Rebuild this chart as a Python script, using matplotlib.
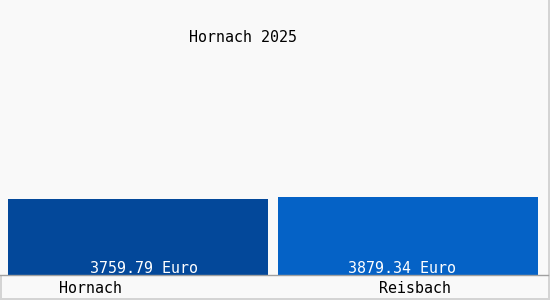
import numpy as np
import matplotlib.pyplot as plt

towns = ["Hornach", "Reisbach"]
values = [3759.79, 3879.34]
value_labels = ["3759.79 Euro", "3879.34 Euro"]
bar_colors = ["#03489a", "#0562c6"]
title = "Hornach 2025"

plt.rcParams["font.family"] = "DejaVu Sans Mono"
fs = 10.8

fig = plt.figure(figsize=(5.5, 3), dpi=100, facecolor="#f9f9f9",
                 edgecolor="#d4d4d4", linewidth=1.5)
ax = fig.add_axes([0, 25 / 300, 548 / 550, 275 / 300])
ax.set_facecolor("#f9f9f9")

x = np.arange(len(towns))
ax.bar(x, values, width=0.965, color=bar_colors)
# value labels are not quite centred on the bars in the original
text_shift = [4, -4]
for xi, lab, dx in zip(x, value_labels, text_shift):
    ax.annotate(lab, (xi, 0), xytext=(dx, 1.5), textcoords="offset points",
                ha="center", va="baseline", color="white", fontsize=fs)

ax.set_xlim(-138 / 270, 410 / 270)
ax.set_ylim(0, values[1] * 275 / 78)

label_shift = [-0.175, 0.026]
ax.set_xticks(x + np.array(label_shift))
ax.set_xticklabels(towns, fontsize=fs)
ax.tick_params(axis="x", length=0, pad=4.5)
ax.set_yticks([])
for s in ["top", "left", "right"]:
    ax.spines[s].set_visible(False)
ax.spines["bottom"].set_color("#a0a0a0")
ax.spines["bottom"].set_linewidth(1)

fig.text(243 / 550, 1 - 38 / 300, title, ha="center", va="center", fontsize=fs)

fig.savefig("out.png", dpi=100, facecolor=fig.get_facecolor(), edgecolor=fig.get_edgecolor())
